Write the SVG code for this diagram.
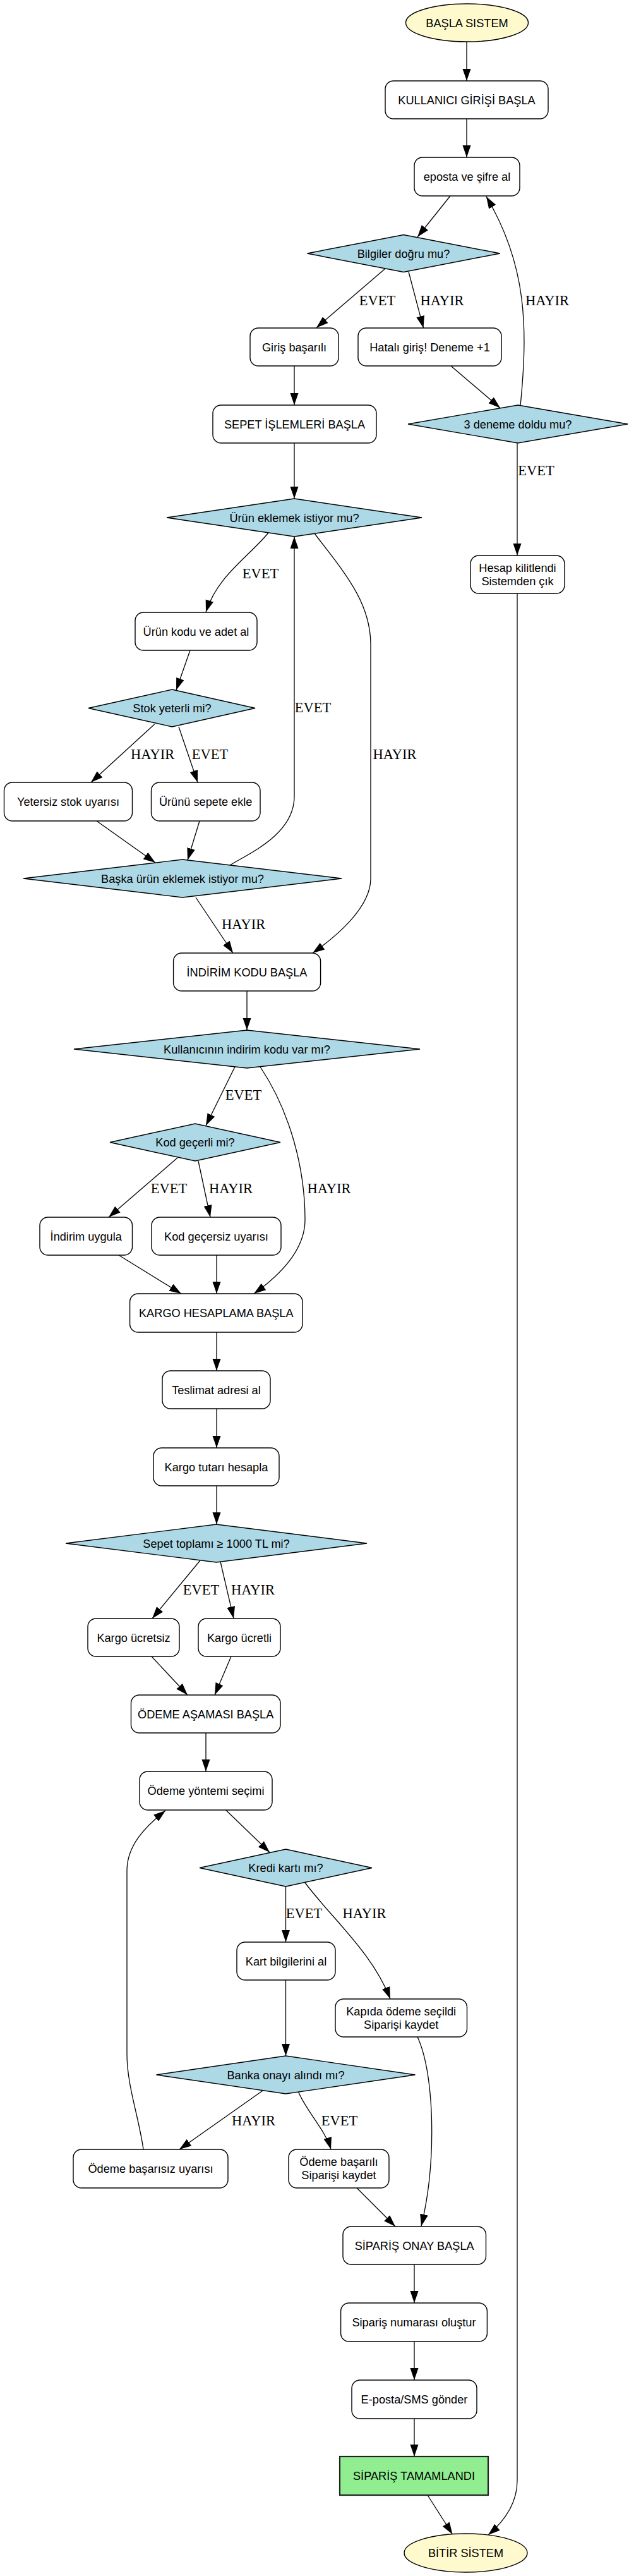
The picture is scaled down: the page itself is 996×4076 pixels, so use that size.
<svg xmlns="http://www.w3.org/2000/svg" width="996" height="4076" viewBox="0 0 996 4076">
<defs>
<marker id="ah" markerUnits="userSpaceOnUse" markerWidth="20" markerHeight="14" refX="19" refY="6.5" orient="auto">
<path d="M0,0 L19,6.5 L0,13 z" fill="#000"/>
</marker>
<style>
.box{fill:#fff;stroke:#000;stroke-width:1.4}
.dia{fill:#add8e6;stroke:#000;stroke-width:1.4}
.term{fill:#fffacd;stroke:#000;stroke-width:1.4}
.done{fill:#90ee90;stroke:#222;stroke-width:2.2}
.t{font-family:"Liberation Sans",Arial,sans-serif;font-size:18.2px;text-anchor:middle;fill:#000}
.lbl{font-family:"Liberation Serif","Times New Roman",serif;font-size:22.5px;text-anchor:middle;fill:#000}
#edges path{fill:none;stroke:#000;stroke-width:1.3;marker-end:url(#ah)}
</style>
</defs>
<rect width="996" height="4076" fill="#fff"/>
<g id="edges">
<path d="M739,66 L739,128"/>
<path d="M739,188 L739,249"/>
<path d="M713,310 L661,375"/>
<path d="M610,425 L501,518.5"/>
<path d="M647,430 L670.5,519"/>
<path d="M466,579 L466,641"/>
<path d="M714,579 L792,645.5"/>
<path d="M824,642 C836,520 835,420 770,311"/>
<path d="M819,701 L819,879"/>
<path d="M819,939 L819,3925 C819,3960 800,3988 773,4011"/>
<path d="M466,701 L466,789"/>
<path d="M425,843 C395,880 345,910 326,968.5"/>
<path d="M301,1029 L279,1092"/>
<path d="M244.6,1146 L144,1238"/>
<path d="M283,1150 L313,1238"/>
<path d="M153,1299 L246,1365"/>
<path d="M316,1299 L297,1361"/>
<path d="M364,1369 C395,1350 466,1320 466,1260 L466,849"/>
<path d="M498,844 C540,900 587,950 587,1020 L587,1390 C587,1435 535,1480 495,1508"/>
<path d="M310,1420 L369,1508"/>
<path d="M391,1568 L391,1630"/>
<path d="M372,1688 L326,1781"/>
<path d="M412,1688 C460,1760 483,1850 483,1930 C483,1980 440,2020 402,2047"/>
<path d="M281,1832 L172,1926"/>
<path d="M314,1837 L333,1926"/>
<path d="M188,1986 L287,2047"/>
<path d="M343,1986 L343,2047"/>
<path d="M343,2108 L343,2169"/>
<path d="M343,2229 L343,2291"/>
<path d="M343,2351 L343,2412"/>
<path d="M317,2469 L241,2561"/>
<path d="M349,2471 L370,2561"/>
<path d="M240,2621 L297,2682"/>
<path d="M366,2621 L340,2682"/>
<path d="M326,2742 L326,2803"/>
<path d="M357.6,2864 L427,2931"/>
<path d="M452.5,2985 L452.5,3073"/>
<path d="M483,2979 C525,3035 590,3090 618,3163"/>
<path d="M452.5,3133 L452.5,3253"/>
<path d="M416,3308 L284,3401"/>
<path d="M472.5,3310 C485,3340 515,3370 524,3401"/>
<path d="M227,3401 C220,3350 201,3300 201,3250 L201,2960 C201,2920 230,2890 262,2865"/>
<path d="M661,3223 C688,3280 692,3420 667,3522.5"/>
<path d="M565,3462 L626,3523"/>
<path d="M656,3583 L656,3644"/>
<path d="M656,3705 L656,3766"/>
<path d="M656,3827 L656,3887"/>
<path d="M677,3948 L716.5,4010"/>
</g>
<g id="edge-labels">
<text class="lbl" x="597.5" y="483">EVET</text>
<text class="lbl" x="700" y="483">HAYIR</text>
<text class="lbl" x="866.5" y="483">HAYIR</text>
<text class="lbl" x="849" y="752">EVET</text>
<text class="lbl" x="412.5" y="915">EVET</text>
<text class="lbl" x="495.5" y="1127">EVET</text>
<text class="lbl" x="625" y="1201">HAYIR</text>
<text class="lbl" x="241.7" y="1201">HAYIR</text>
<text class="lbl" x="332.5" y="1201">EVET</text>
<text class="lbl" x="385.7" y="1470">HAYIR</text>
<text class="lbl" x="385.5" y="1740">EVET</text>
<text class="lbl" x="521" y="1888">HAYIR</text>
<text class="lbl" x="267.5" y="1888">EVET</text>
<text class="lbl" x="365.5" y="1888">HAYIR</text>
<text class="lbl" x="318.5" y="2523">EVET</text>
<text class="lbl" x="400.5" y="2523">HAYIR</text>
<text class="lbl" x="481.5" y="3035">EVET</text>
<text class="lbl" x="577" y="3035">HAYIR</text>
<text class="lbl" x="401.5" y="3363">HAYIR</text>
<text class="lbl" x="537.5" y="3363">EVET</text>
</g>
<g id="n_start"><ellipse class="term" cx="739.5" cy="36" rx="97" ry="30"/><text class="t" x="739.5" y="42.5">BAŞLA SISTEM</text></g>
<g id="n_login"><rect class="box" x="610" y="128" width="258" height="60" rx="13"/><text class="t" x="739" y="164.5">KULLANICI GİRİŞİ BAŞLA</text></g>
<g id="n_eposta"><rect class="box" x="656" y="249" width="167" height="61" rx="13"/><text class="t" x="739.5" y="286">eposta ve şifre al</text></g>
<g id="n_bilgiler"><polygon class="dia" points="639,371.5 791.6,401 639,430.5 486.4,401"/><text class="t" x="639" y="407.5">Bilgiler doğru mu?</text></g>
<g id="n_giris"><rect class="box" x="396" y="519" width="140" height="60" rx="13"/><text class="t" x="466" y="555.5">Giriş başarılı</text></g>
<g id="n_hatali"><rect class="box" x="567" y="519" width="227" height="60" rx="13"/><text class="t" x="680.5" y="555.5">Hatalı giriş! Deneme +1</text></g>
<g id="n_sepet"><rect class="box" x="337" y="641" width="259" height="60" rx="13"/><text class="t" x="466.5" y="677.5">SEPET İŞLEMLERİ BAŞLA</text></g>
<g id="n_deneme"><polygon class="dia" points="820,641 994,671 820,701 646,671"/><text class="t" x="820" y="677.5">3 deneme doldu mu?</text></g>
<g id="n_urunek"><polygon class="dia" points="466,789 668,819 466,849 264,819"/><text class="t" x="466" y="825.5">Ürün eklemek istiyor mu?</text></g>
<g id="n_hesap"><rect class="box" x="745" y="879" width="149" height="60" rx="13"/><text class="t" x="819.5" y="904.5">Hesap kilitlendi</text><text class="t" x="819.5" y="926">Sistemden çık</text></g>
<g id="n_urunkodu"><rect class="box" x="214" y="969" width="193" height="60" rx="13"/><text class="t" x="310.5" y="1005.5">Ürün kodu ve adet al</text></g>
<g id="n_stok"><polygon class="dia" points="272.5,1091 404,1120.5 272.5,1150 140,1120.5"/><text class="t" x="272.5" y="1127">Stok yeterli mi?</text></g>
<g id="n_yetersiz"><rect class="box" x="6.5" y="1238" width="203" height="61" rx="13"/><text class="t" x="108" y="1275">Yetersiz stok uyarısı</text></g>
<g id="n_urunu"><rect class="box" x="239.5" y="1238" width="172.5" height="61" rx="13"/><text class="t" x="325.7" y="1275">Ürünü sepete ekle</text></g>
<g id="n_baska"><polygon class="dia" points="289,1360 541,1390 289,1420 37,1390"/><text class="t" x="289" y="1396.5">Başka ürün eklemek istiyor mu?</text></g>
<g id="n_indirim"><rect class="box" x="274.6" y="1508" width="233" height="60" rx="13"/><text class="t" x="391" y="1544.5">İNDİRİM KODU BAŞLA</text></g>
<g id="n_kullanici"><polygon class="dia" points="391,1630 665,1660 391,1690 117,1660"/><text class="t" x="391" y="1666.5">Kullanıcının indirim kodu var mı?</text></g>
<g id="n_kod"><polygon class="dia" points="309,1778 444,1807.5 309,1837 174,1807.5"/><text class="t" x="309" y="1814">Kod geçerli mi?</text></g>
<g id="n_uygula"><rect class="box" x="63" y="1926" width="146.5" height="60" rx="13"/><text class="t" x="136.2" y="1962.5">İndirim uygula</text></g>
<g id="n_gecersiz"><rect class="box" x="240" y="1926" width="205" height="60" rx="13"/><text class="t" x="342.5" y="1962.5">Kod geçersiz uyarısı</text></g>
<g id="n_kargo"><rect class="box" x="205.6" y="2047" width="273.4" height="61" rx="13"/><text class="t" x="342.3" y="2084">KARGO HESAPLAMA BAŞLA</text></g>
<g id="n_teslimat"><rect class="box" x="257" y="2169" width="171" height="60" rx="13"/><text class="t" x="342.5" y="2205.5">Teslimat adresi al</text></g>
<g id="n_tutar"><rect class="box" x="243" y="2291" width="199" height="60" rx="13"/><text class="t" x="342.5" y="2327.5">Kargo tutarı hesapla</text></g>
<g id="n_toplam"><polygon class="dia" points="342.5,2412 581,2442 342.5,2472 104,2442"/><text class="t" x="342.5" y="2448.5">Sepet toplamı ≥ 1000 TL mi?</text></g>
<g id="n_ucretsiz"><rect class="box" x="139" y="2561" width="145" height="60" rx="13"/><text class="t" x="211.5" y="2597.5">Kargo ücretsiz</text></g>
<g id="n_ucretli"><rect class="box" x="314" y="2561" width="130" height="60" rx="13"/><text class="t" x="379" y="2597.5">Kargo ücretli</text></g>
<g id="n_odeme"><rect class="box" x="207.5" y="2682" width="236.5" height="60" rx="13"/><text class="t" x="325.7" y="2718.5">ÖDEME AŞAMASI BAŞLA</text></g>
<g id="n_yontem"><rect class="box" x="221" y="2803" width="210" height="61" rx="13"/><text class="t" x="326" y="2840">Ödeme yöntemi seçimi</text></g>
<g id="n_kredi"><polygon class="dia" points="452.5,2926 589,2955.5 452.5,2985 316,2955.5"/><text class="t" x="452.5" y="2962">Kredi kartı mı?</text></g>
<g id="n_kart"><rect class="box" x="375" y="3073" width="156" height="60" rx="13"/><text class="t" x="453" y="3109.5">Kart bilgilerini al</text></g>
<g id="n_kapida"><rect class="box" x="531" y="3163" width="208.5" height="60" rx="13"/><text class="t" x="635.2" y="3188.5">Kapıda ödeme seçildi</text><text class="t" x="635.2" y="3210">Siparişi kaydet</text></g>
<g id="n_banka"><polygon class="dia" points="452.5,3253 657.5,3283 452.5,3313 247.5,3283"/><text class="t" x="452.5" y="3289.5">Banka onayı alındı mı?</text></g>
<g id="n_basarisiz"><rect class="box" x="116" y="3401" width="245" height="61" rx="13"/><text class="t" x="238.5" y="3438">Ödeme başarısız uyarısı</text></g>
<g id="n_basarili"><rect class="box" x="457" y="3401" width="159" height="61" rx="13"/><text class="t" x="536.5" y="3426.5">Ödeme başarılı</text><text class="t" x="536.5" y="3448">Siparişi kaydet</text></g>
<g id="n_onay"><rect class="box" x="543" y="3523" width="226.5" height="60" rx="13"/><text class="t" x="656.2" y="3559.5">SİPARİŞ ONAY BAŞLA</text></g>
<g id="n_numara"><rect class="box" x="539.6" y="3644" width="231.8" height="61" rx="13"/><text class="t" x="655.5" y="3681">Sipariş numarası oluştur</text></g>
<g id="n_eposta2"><rect class="box" x="557" y="3766" width="198" height="61" rx="13"/><text class="t" x="656" y="3803">E-posta/SMS gönder</text></g>
<g id="n_tamam"><rect class="done" x="538" y="3887" width="235" height="61"/><text class="t" x="655.5" y="3924">SİPARİŞ TAMAMLANDI</text></g>
<g id="n_end"><ellipse class="term" cx="737.5" cy="4039.5" rx="97.5" ry="30.5"/><text class="t" x="737.5" y="4046">BİTİR SİSTEM</text></g>
</svg>
